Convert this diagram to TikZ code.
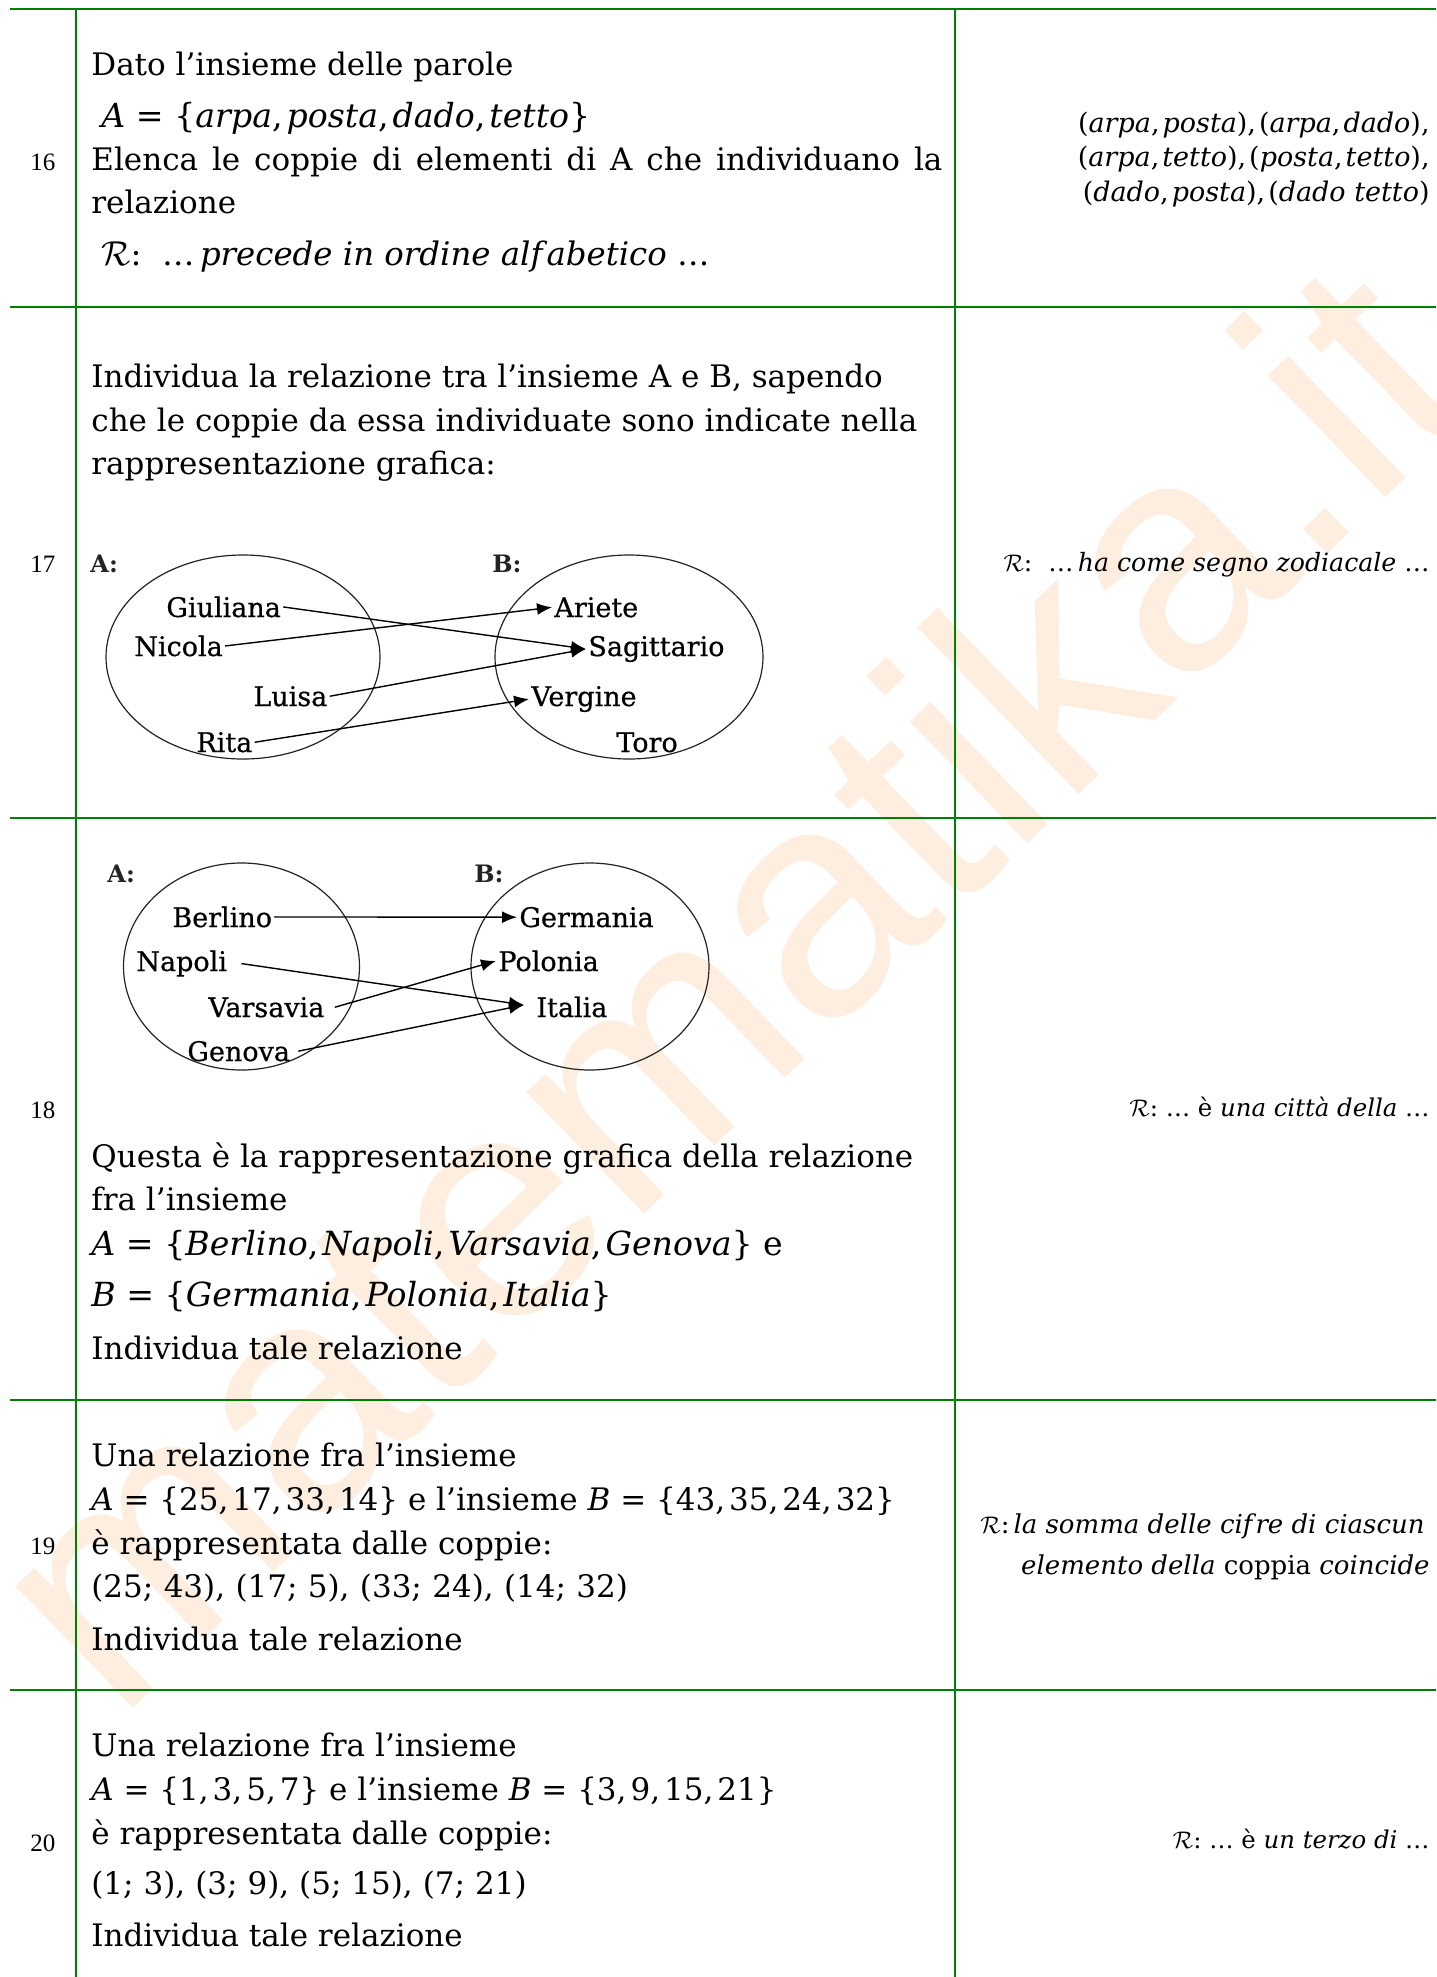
\documentclass[tikz,border=0pt]{standalone}
\usepackage{fontspec}
\setmainfont{DejaVu Serif}
\newfontfamily\numfont{Liberation Serif}
\newfontfamily\wmfont{Liberation Sans}
\newfontfamily\labfont[FakeBold=0.6]{DejaVu Serif}
\usetikzlibrary{arrows.meta}
\definecolor{gridgreen}{RGB}{0,128,0}
\definecolor{wmcol}{RGB}{253,238,223}
\definecolor{inkgray}{RGB}{35,35,35}
\newcommand{\mi}[1]{\textit{#1}}
\newcommand{\scrR}{$\mathcal{R}$}
\begin{document}
\begin{tikzpicture}[x=0.5pt,y=-0.5pt,
  txt/.style={anchor=base west, inner sep=0pt, font=\fontsize{15.5pt}{22pt}\selectfont},
  mathtxt/.style={anchor=base west, inner sep=0pt, font=\fontsize{16.6pt}{22pt}\selectfont},
  ans/.style={anchor=base east, inner sep=0pt, font=\fontsize{13.5pt}{16pt}\selectfont},
  num/.style={anchor=center, inner sep=0pt, font=\numfont\fontsize{12.5pt}{13pt}\selectfont},
  lab/.style={anchor=base west, inner sep=1pt, font=\labfont\fontsize{13.5pt}{16pt}\selectfont, text=black},
  setname/.style={anchor=base west, inner sep=0pt, font=\bfseries\fontsize{12pt}{14pt}\selectfont, text=inkgray},
  gridline/.style={gridgreen, line width=1pt},
  setline/.style={inkgray, line width=0.6pt},
  rel/.style={black, line width=0.7pt, -{Latex[length=7.5pt,width=6pt]}}
]
\fill[white] (0,0) rectangle (1436,1977);
\path[use as bounding box] (0,0) rectangle (1436,1977);

% watermark
\node[rotate=44, text=wmcol, inner sep=0pt, font=\wmfont\fontsize{160pt}{160pt}\selectfont] (wm) at (722,980) {matematika.it};

% grid
\foreach \yy in {9,307,818,1400,1690} {\draw[gridline] (10,\yy) -- (1436,\yy);}
\draw[gridline] (76,9) -- (76,1977);
\draw[gridline] (955,9) -- (955,1977);

% numbers
\node[num] (n16) at (43,162) {16};
\node[num] (n17) at (43,564) {17};
\node[num] (n18) at (43,1110) {18};
\node[num] (n19) at (43,1546) {19};
\node[num] (n20) at (43,1843) {20};

% row 16
\node[txt] (r16a) at (91,75) {Dato l’insieme delle parole};
\node[mathtxt] (r16b) at (101,127) {\mi{A} = \{\mi{arpa},\kern2pt\mi{posta},\kern2pt\mi{dado},\kern2pt\mi{tetto}\}};
\node[txt] (r16c) at (91,170) {\makebox[425.5pt][s]{Elenca le coppie di elementi di A che individuano la}};
\node[txt] (r16d) at (91,213) {relazione};
\node[mathtxt, font=\fontsize{16.2pt}{22pt}\selectfont] (r16e) at (101,265) {\scrR:\ \ …\,\mi{precede in ordine alf\kern2pt abetico} …};
\node[ans] (a16a) at (1430,132) {(\mi{arpa},\kern1.5pt\mi{posta}),\kern1.5pt(\mi{arpa},\kern1.5pt\mi{dado}),};
\node[ans] (a16b) at (1430,166) {(\mi{arpa},\kern1.5pt\mi{tetto}),\kern1.5pt(\mi{posta},\kern1.5pt\mi{tetto}),};
\node[ans] (a16c) at (1430,201) {(\mi{dado},\kern1.5pt\mi{posta}),\kern1.5pt(\mi{dado} \mi{tetto})};

% row 17
\node[txt] (r17a) at (91,387) {Individua la relazione tra l’insieme A e B, sapendo};
\node[txt] (r17b) at (91,431) {che le coppie da essa individuate sono indicate nella};
\node[txt] (r17c) at (91,474) {rappresentazione grafica:};
\node[ans, font=\fontsize{12.6pt}{16pt}\selectfont] (a17) at (1430,571) {\scrR:\ \ …\,\mi{ha come segno zodiacale} …};

\node[setname] (A17) at (90,572) {A:};
\node[setname] (B17) at (492,572) {B:};
\draw[setline] (243,657) ellipse [x radius=137, y radius=102];
\draw[setline] (629,657) ellipse [x radius=134, y radius=102];
\node[lab] (giu) at (164,617) {Giuliana};
\node[lab] (nic) at (132,656) {Nicola};
\node[lab] (lui) at (251,706) {Luisa};
\node[lab] (rit) at (194,752) {Rita};
\node[lab] (ari) at (552,617) {Ariete};
\node[lab] (sag) at (586,656) {Sagittario};
\node[lab] (ver) at (529,706) {Vergine};
\node[lab] (tor) at (614,752) {Toro};
\draw[rel] (giu.east) -- (sag.west);
\draw[rel] (nic.east) -- (ari.west);
\draw[rel] (lui.east) -- (sag.west);
\draw[rel] (rit.east) -- (ver.west);

% row 18
\node[setname] (A18) at (107,882) {A:};
\node[setname] (B18) at (474,882) {B:};
\draw[setline] (241.5,966.5) ellipse [x radius=118, y radius=103.5];
\draw[setline] (590,966.5) ellipse [x radius=119, y radius=103.5];
\node[lab] (ber) at (170,927) {Berlino};
\node[lab] (nap) at (134,971) {Napoli};
\node[lab] (var) at (206,1017) {Varsavia};
\node[lab] (gen) at (185,1061) {Genova};
\node[lab] (ger) at (517,927) {Germania};
\node[lab] (pol) at (496,971) {Polonia};
\node[lab] (ita) at (534,1017) {Italia};
\coordinate (itain) at ([xshift=-5pt,yshift=1pt]ita.west);
\draw[rel] (ber.east) -- (ger.west);
\draw[rel] ([xshift=6pt]nap.east) -- (itain);
\draw[rel] ([xshift=4pt]var.east) -- (pol.west);
\draw[rel] ([xshift=3pt]gen.east) -- (itain);

\node[txt] (r18a) at (91,1167) {Questa è la rappresentazione grafica della relazione};
\node[txt] (r18b) at (91,1210) {fra l’insieme};
\node[mathtxt] (r18c) at (91,1255) {\mi{A} = \{\mi{Berlino},\kern2pt\mi{Napoli},\kern2pt\mi{Varsavia},\kern2pt\mi{Genova}\} e};
\node[mathtxt] (r18d) at (91,1306) {\mi{B} = \{\mi{Germania},\kern2pt\mi{Polonia},\kern2pt\mi{Italia}\}};
\node[txt] (r18e) at (91,1359) {Individua tale relazione};
\node[ans, font=\fontsize{12.2pt}{16pt}\selectfont] (a18) at (1430,1116) {\scrR:\ … è \mi{una città della} …};

% row 19
\node[txt] (r19a) at (91,1466) {Una relazione fra l’insieme};
\node[txt] (r19b) at (91,1510) {\mi{A} = \{25,\kern2pt17,\kern2pt33,\kern2pt14\} e l’insieme \mi{B} = \{43,\kern2pt35,\kern2pt24,\kern2pt32\}};
\node[txt] (r19c) at (91,1554) {è rappresentata dalle coppie:};
\node[txt] (r19d) at (91,1597) {(25;\kern5.2pt43),\kern5.2pt(17;\kern5.2pt5),\kern5.2pt(33;\kern5.2pt24),\kern5.2pt(14;\kern5.2pt32)};
\node[txt] (r19e) at (91,1650) {Individua tale relazione};
\node[ans, font=\fontsize{13pt}{16pt}\selectfont] (a19a) at (1425,1533) {\scrR:\kern2pt\mi{la somma delle cif\kern1.5pt re di ciascun}};
\node[ans, font=\fontsize{13pt}{16pt}\selectfont] (a19b) at (1430,1574) {\mi{elemento della} coppia \mi{coincide}};

% row 20
\node[txt] (r20a) at (91,1756) {Una relazione fra l’insieme};
\node[txt] (r20b) at (91,1800) {\mi{A} = \{1,\kern2pt3,\kern2pt5,\kern2pt7\} e l’insieme \mi{B} = \{3,\kern2pt9,\kern2pt15,\kern2pt21\}};
\node[txt] (r20c) at (91,1844) {è rappresentata dalle coppie:};
\node[txt] (r20d) at (91,1894) {(1;\kern5pt3),\kern5pt(3;\kern5pt9),\kern5pt(5;\kern5pt15),\kern5pt(7;\kern5pt21)};
\node[txt] (r20e) at (91,1946) {Individua tale relazione};
\node[ans, font=\fontsize{12.2pt}{16pt}\selectfont] (a20) at (1430,1848) {\scrR:\ … è \mi{un terzo di} …};
\end{tikzpicture}
\end{document}
